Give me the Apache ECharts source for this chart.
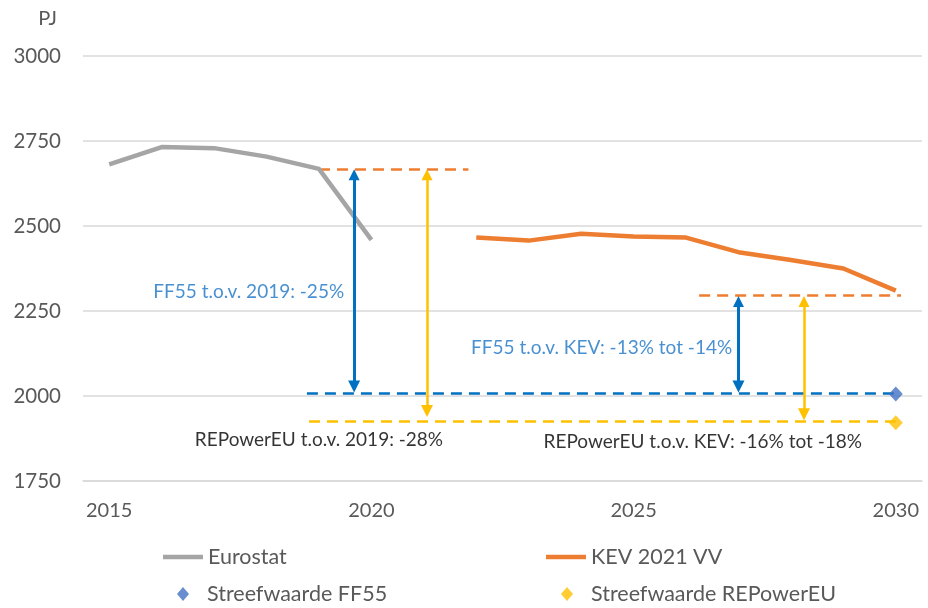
<!DOCTYPE html>
<html>
<head>
<meta charset="utf-8">
<script src="https://cdn.jsdelivr.net/npm/echarts@6/dist/echarts.min.js"></script>
<style>html,body{margin:0;padding:0;background:#fff}#c{width:928px;height:608px}</style>
</head>
<body>
<div id="c"></div>
<script>
// ---- data ----
const years = ['2015','2016','2017','2018','2019','2020','2021','2022','2023','2024','2025','2026','2027','2028','2029','2030'];
const eurostat = [2681, 2732, 2729, 2704, 2668, 2459, null, null, null, null, null, null, null, null, null, null];
const kev2021 = [null, null, null, null, null, null, null, 2466, 2457, 2477, 2469, 2466, 2423, 2400, 2375, 2310];
const targetFF55 = [[2030, 2006]];
const targetREPowerEU = [[2030, 1921]];
// dashed reference levels: [x, y] start and end (x in years)
const refKev2019 = [[2019, 2668], [2021.85, 2668]];
const refKev2030 = [[2026.25, 2296], [2030.1, 2296]];
const refFF55 = [[2018.77, 2007], [2030, 2007]];
const refREPowerEU = [[2018.81, 1927], [2030, 1927]];
// double arrows: x position, top value, bottom value (arrow-head centres)
const arrowsBlue = [[2019.67, 2651, 2028], [2027.0, 2278, 2028]];
const arrowsYellow = [[2021.06, 2651, 1956], [2028.25, 2278, 1946]];
// annotation texts and their centre positions
const noteTexts = ['FF55 t.o.v. 2019: -25%', 'REPowerEU t.o.v. 2019: -28%', 'FF55 t.o.v. KEV: -13% tot -14%', 'REPowerEU t.o.v. KEV: -16% tot -18%'];
const notePos = [[2019.48, 2307], [2019.0, 1870], [2024.39, 2143], [2026.32, 1864]];
const noteAlign = ['right', 'center', 'center', 'center'];
const noteColor = ['#1C74C6', '#000000', '#1C74C6', '#000000'];
const legendNames = ['Eurostat', 'Streefwaarde FF55', 'KEV 2021 VV', 'Streefwaarde REPowerEU'];

const FONT = 'Lato';
const chart = echarts.init(document.getElementById('c'));

function dashed(name, pts, color) {
  return {
    name: name, type: 'lines', coordinateSystem: 'cartesian2d', xAxisIndex: 1, yAxisIndex: 0,
    z: 2, silent: true, symbol: ['none', 'none'],
    lineStyle: { color: color, width: 2.5, type: [11, 7], opacity: 1 },
    data: [{ coords: pts }]
  };
}
function arrows(name, list, color, width) {
  return {
    name: name, type: 'lines', coordinateSystem: 'cartesian2d', xAxisIndex: 1, yAxisIndex: 0,
    z: 5, silent: true, symbol: ['triangle', 'triangle'], symbolSize: [11, 12],
    lineStyle: { color: color, width: width, type: 'solid', opacity: 1 },
    data: list.map(a => ({ coords: [[a[0], a[1]], [a[0], a[2]]] }))
  };
}
const legText = { fontFamily: FONT, fontSize: 21.5, color: '#595959', lineHeight: 22 };
function lineLegend(name, left, top) {
  return { left: left, top: top, padding: 0, itemWidth: 40, itemHeight: 4.5, icon: 'rect',
    textStyle: legText, data: [name], selectedMode: false };
}
function diamondLegend(name, left, top) {
  return { left: left, top: top, padding: 0, itemWidth: 12, itemHeight: 14, icon: 'diamond',
    textStyle: Object.assign({}, legText, { padding: [0, 0, 0, 13] }), data: [name], selectedMode: false };
}

chart.setOption({
  animation: false,
  textStyle: { fontFamily: FONT },
  grid: { left: 83, right: 6, top: 56, bottom: 127 },
  legend: [
    lineLegend(legendNames[0], 163, 546),
    diamondLegend(legendNames[1], 177, 583),
    lineLegend(legendNames[2], 546, 546),
    diamondLegend(legendNames[3], 561, 583)
  ],
  xAxis: [
    { type: 'category', data: years, boundaryGap: true,
      axisTick: { show: false },
      axisLine: { show: true, lineStyle: { color: '#D9D9D9', width: 1.5 } },
      axisLabel: { interval: 4, color: '#595959', fontSize: 20, margin: 20, fontFamily: FONT },
      splitLine: { show: false } },
    { type: 'value', min: 2014.5, max: 2030.5, show: false, splitLine: { show: false } }
  ],
  yAxis: {
    type: 'value', min: 1750, max: 3000, interval: 250,
    name: 'PJ', nameLocation: 'end', nameGap: 37,
    nameTextStyle: { color: '#595959', fontSize: 20, align: 'right', verticalAlign: 'middle', padding: [0, 26, 0, 0], fontFamily: FONT },
    axisLine: { show: false }, axisTick: { show: false },
    axisLabel: { color: '#595959', fontSize: 20.5, margin: 22, fontFamily: FONT, formatter: v => String(v) },
    splitLine: { lineStyle: { color: '#D9D9D9', width: 1.5 } }
  },
  series: [
    dashed('refKev2019', refKev2019, '#ED7D31'),
    dashed('refKev2030', refKev2030, '#ED7D31'),
    dashed('refFF55', refFF55, '#0070C0'),
    dashed('refREPowerEU', refREPowerEU, '#FFC000'),
    { name: 'Eurostat', type: 'line', data: eurostat, symbol: 'none', z: 3,
      lineStyle: { color: '#A5A5A5', width: 4.5 }, itemStyle: { color: '#A5A5A5' } },
    { name: 'KEV 2021 VV', type: 'line', data: kev2021, symbol: 'none', z: 3,
      lineStyle: { color: '#ED7D31', width: 4.5 }, itemStyle: { color: '#ED7D31' } },
    { name: 'Streefwaarde FF55', type: 'scatter', xAxisIndex: 1, data: targetFF55, symbol: 'diamond', symbolSize: [14, 15], z: 4,
      itemStyle: { color: '#4472C4' } },
    { name: 'Streefwaarde REPowerEU', type: 'scatter', xAxisIndex: 1, data: targetREPowerEU, symbol: 'diamond', symbolSize: [14, 15], z: 4,
      itemStyle: { color: '#FFC000' } },
    arrows('arrowsBlue', arrowsBlue, '#0070C0', 3),
    arrows('arrowsYellow', arrowsYellow, '#FFC000', 2.5),
    { name: 'notes', type: 'scatter', xAxisIndex: 1, symbolSize: 0, silent: true, z: 6,
      data: noteTexts.map((t, i) => ({
        name: t, value: notePos[i],
        label: { show: true, position: 'inside', formatter: '{b}', align: noteAlign[i], verticalAlign: 'middle',
          color: noteColor[i], fontSize: 19, fontFamily: FONT }
      })) }
  ]
});
</script>
</body>
</html>
